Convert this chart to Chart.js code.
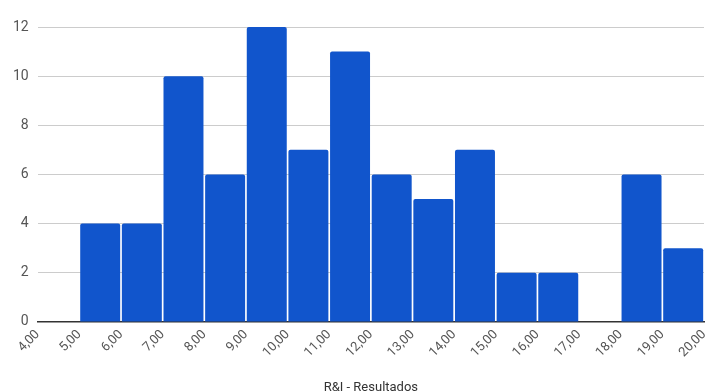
<!DOCTYPE html>
<html>
<head>
<meta charset="utf-8">
<script src="https://cdn.jsdelivr.net/npm/chart.js@4"></script>
<style>
  html, body { margin: 0; padding: 0; background: #fff; }
  #wrap { width: 713px; height: 392px; position: relative; overflow: hidden; }
</style>
</head>
<body>
<div id="wrap"><canvas id="c"></canvas></div>
<script>
// Histogram of results: each bin is one unit wide, starting at binStarts[i]
const binStarts = [4, 5, 6, 7, 8, 9, 10, 11, 12, 13, 14, 15, 16, 17, 18, 19];
const counts    = [0, 4, 4, 10, 6, 12, 7, 11, 6, 5, 7, 2, 2, 0, 6, 3];
const xMin = 4, xMax = 20;
const yTicks = [0, 2, 4, 6, 8, 10, 12];
const axisTitle = 'R&I - Resultados';

const points = binStarts.map((s, i) => ({ x: s + 0.5, y: counts[i] }));
const fmt = v => v.toFixed(2).replace('.', ',');

new Chart(document.getElementById('c'), {
  type: 'bar',
  data: {
    datasets: [{
      data: points,
      backgroundColor: '#1155cc',
      barPercentage: 0.96,
      categoryPercentage: 1,
      borderRadius: { topLeft: 2, topRight: 2, bottomLeft: 0, bottomRight: 0 },
      borderSkipped: false
    }]
  },
  options: {
    responsive: true,
    maintainAspectRatio: false,
    animation: false,
    layout: { padding: { left: 4, right: 9, top: 27, bottom: -4 } },
    plugins: { legend: { display: false }, tooltip: { enabled: false } },
    scales: {
      x: {
        type: 'linear',
        min: xMin,
        max: xMax,
        offset: false,
        // rotated labels hang to the left of their tick, so no extra room on the right
        afterFit: scale => { scale.paddingRight = 0; },
        grid: { display: false, drawTicks: false },
        border: { display: true, color: '#333', width: 1.5 },
        ticks: {
          stepSize: 1,
          autoSkip: false,
          minRotation: 45,
          maxRotation: 45,
          padding: 5,
          color: '#555',
          font: { family: 'Roboto', size: 13 },
          callback: v => fmt(v)
        },
        title: {
          display: true,
          text: axisTitle,
          color: '#333',
          padding: { top: 15, bottom: 0 },
          font: { family: 'Roboto', size: 13 }
        }
      },
      y: {
        min: 0,
        max: 12,
        grid: { color: '#cccccc', drawTicks: false, lineWidth: 1 },
        border: { display: false },
        afterBuildTicks: axis => { axis.ticks = yTicks.map(v => ({ value: v })); },
        ticks: {
          padding: 9,
          color: '#555',
          font: { family: 'Roboto', size: 14 }
        }
      }
    }
  }
});
</script>
</body>
</html>
